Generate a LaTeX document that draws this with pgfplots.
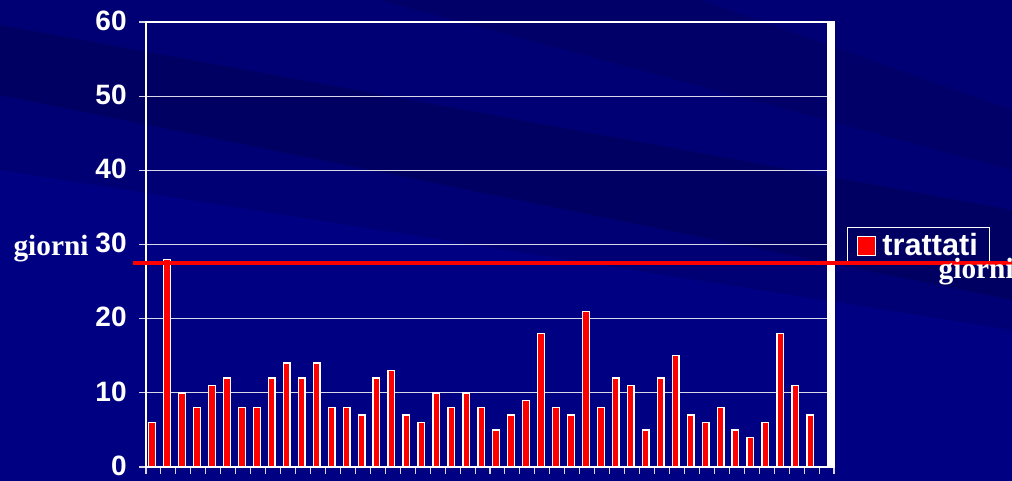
\documentclass[border=0pt]{standalone}
\usepackage{fontspec}
\setmainfont{Liberation Serif}
\setsansfont{Liberation Sans}
\usepackage{pgfplots}
\pgfplotsset{compat=1.18}
\definecolor{navy}{HTML}{000074}
\definecolor{navydark}{HTML}{000058}
\definecolor{navylight}{HTML}{000090}
\definecolor{gridgrey}{HTML}{D8D8E8}

\begin{document}
\begin{tikzpicture}
% background in image pixel coordinates
\begin{scope}[x=0.75pt,y=-0.75pt,shift={(-109.5pt,350.25pt)}]
  \fill[navy] (0,0) rectangle (1012,481);
  \fill[navydark, opacity=0.6] (0,25) -- (0,95) -- (1012,300) -- (1012,210) -- cycle;
  \fill[navydark, opacity=0.4] (380,0) -- (700,0) -- (1012,110) -- (1012,170) -- cycle;
  \fill[navylight, opacity=0.5] (0,170) -- (0,481) -- (1012,481) -- (1012,330) -- cycle;
\end{scope}

\begin{axis}[
    scale only axis,
    width=516pt, height=333.75pt,
    xmin=0.5, xmax=46.5, ymin=0, ymax=60,
    ybar, bar width=5pt, bar shift=-1pt,
    ytick={0,10,...,60},
    xtick={0.5,1.5,...,46.5}, xticklabels={},
    tick pos=left, tick align=outside,
    major tick length=5pt,
    tick style={gridgrey, line width=0.8pt},
    ymajorgrids, grid style={gridgrey, line width=0.8pt},
    axis line style={white, line width=2pt},
    yticklabel style={font=\sffamily\bfseries\fontsize{21}{23}\selectfont, text=white, xshift=-6pt, yshift=1pt},
    /pgf/number format/assume math mode=true,
    legend style={at={(1.123,0.497)}, anchor=center, fill=none, draw=white,
        line width=0.6pt, text=white,
        font=\sffamily\bfseries\fontsize{23}{25}\selectfont,
        inner xsep=7pt, inner ysep=3pt},
    legend cell align=left,
    clip=false,
]
\addplot[fill=red, draw=white, line width=1pt,
    legend image code/.code={\draw[fill=red, draw=white, line width=0.6pt] (0cm,-0.24cm) rectangle (0.48cm,0.24cm);}]
    coordinates {
    (1,6) (2,28) (3,10) (4,8) (5,11) (6,12) (7,8) (8,8) (9,12) (10,14)
    (11,12) (12,14) (13,8) (14,8) (15,7) (16,12) (17,13) (18,7) (19,6) (20,10)
    (21,8) (22,10) (23,8) (24,5) (25,7) (26,9) (27,18) (28,8) (29,7) (30,21)
    (31,8) (32,12) (33,11) (34,5) (35,12) (36,15) (37,7) (38,6) (39,8) (40,5)
    (41,4) (42,6) (43,18) (44,11) (45,7)
};
\addlegendentry{\hspace{3pt}trattati}
\draw[white, line width=4.5pt] ([xshift=-3pt]rel axis cs:1,0) -- ([xshift=-3pt]rel axis cs:1,1);
\end{axis}

\begin{scope}[x=0.75pt,y=-0.75pt,shift={(-109.5pt,350.25pt)}]
  \draw[red, line width=3pt] (133,263) -- (1012,263);
  \node[text=white, font=\bfseries\fontsize{22}{24}\selectfont] at (51,249) {giorni};
  \node[text=white, font=\bfseries\fontsize{22}{24}\selectfont, anchor=west] at (934,272) {giorni};
  \pgfresetboundingbox
  \path[use as bounding box] (0,0) rectangle (1012,481);
\end{scope}
\end{tikzpicture}
\end{document}
